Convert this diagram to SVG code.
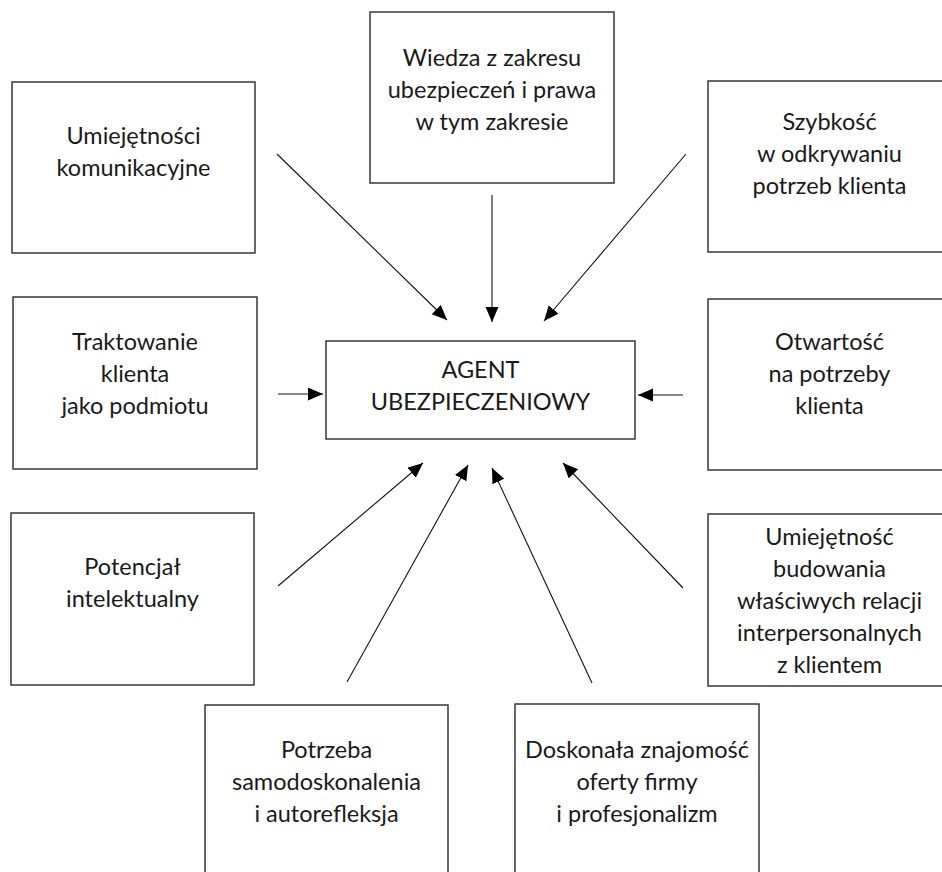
<svg xmlns="http://www.w3.org/2000/svg" width="942" height="872" viewBox="0 0 942 872">
<style>
.box{fill:#fff;stroke:#2a2a2a;stroke-width:1.4}
.t{font-family:Lato,"Open Sans","Liberation Sans",sans-serif;font-size:23.5px;fill:#1a1a1a;text-anchor:middle}
.c{stroke:#111;stroke-width:1.1;fill:none;marker-end:url(#ah)}
</style>
<defs>
<marker id="ah" markerUnits="userSpaceOnUse" markerWidth="16" markerHeight="14" refX="15" refY="6.5" orient="auto">
<path d="M0,0 L15,6.5 L0,13 z" fill="#000"/>
</marker>
</defs>
<rect width="942" height="872" fill="#fff"/>
<g id="connectors">
<line class="c" x1="277" y1="154" x2="447" y2="320"/>
<line class="c" x1="492" y1="195" x2="492" y2="322"/>
<line class="c" x1="686" y1="154" x2="544" y2="321"/>
<line class="c" x1="278" y1="394" x2="323" y2="394"/>
<line class="c" x1="683" y1="395" x2="638" y2="395"/>
<line class="c" x1="278" y1="586" x2="423" y2="463"/>
<line class="c" x1="347" y1="682" x2="468" y2="465"/>
<line class="c" x1="592" y1="683" x2="492" y2="468"/>
<line class="c" x1="683" y1="588" x2="563" y2="463"/>
</g>
<g id="n-komunikacyjne">
<rect class="box" x="12" y="82" width="243" height="171"/>
<text class="t" x="133.5" y="144">Umiejętności</text>
<text class="t" x="133.5" y="176">komunikacyjne</text>
</g>
<g id="n-wiedza">
<rect class="box" x="370" y="12" width="244" height="171"/>
<text class="t" x="492" y="66">Wiedza z zakresu</text>
<text class="t" x="492" y="98">ubezpieczeń i prawa</text>
<text class="t" x="492" y="130">w tym zakresie</text>
</g>
<g id="n-szybkosc">
<rect class="box" x="708" y="81" width="243" height="171"/>
<text class="t" x="829.5" y="130">Szybkość</text>
<text class="t" x="829.5" y="162">w odkrywaniu</text>
<text class="t" x="829.5" y="194">potrzeb klienta</text>
</g>
<g id="n-traktowanie">
<rect class="box" x="13" y="297" width="244" height="172"/>
<text class="t" x="135" y="350">Traktowanie</text>
<text class="t" x="135" y="382">klienta</text>
<text class="t" x="135" y="414">jako podmiotu</text>
</g>
<g id="n-agent">
<rect class="box" x="326" y="341" width="309" height="98"/>
<text class="t" x="480.5" y="378">AGENT</text>
<text class="t" x="480.5" y="410">UBEZPIECZENIOWY</text>
</g>
<g id="n-otwartosc">
<rect class="box" x="708" y="299" width="243" height="171"/>
<text class="t" x="829.5" y="350">Otwartość</text>
<text class="t" x="829.5" y="382">na potrzeby</text>
<text class="t" x="829.5" y="414">klienta</text>
</g>
<g id="n-potencjal">
<rect class="box" x="11" y="513" width="243" height="172"/>
<text class="t" x="132.5" y="575">Potencjał</text>
<text class="t" x="132.5" y="607">intelektualny</text>
</g>
<g id="n-relacje">
<rect class="box" x="708" y="514" width="243" height="172"/>
<text class="t" x="829.5" y="545">Umiejętność</text>
<text class="t" x="829.5" y="577">budowania</text>
<text class="t" x="829.5" y="609">właściwych relacji</text>
<text class="t" x="829.5" y="641">interpersonalnych</text>
<text class="t" x="829.5" y="673">z klientem</text>
</g>
<g id="n-potrzeba">
<rect class="box" x="205" y="705" width="243" height="171"/>
<text class="t" x="326.5" y="758">Potrzeba</text>
<text class="t" x="326.5" y="790">samodoskonalenia</text>
<text class="t" x="326.5" y="822">i autorefleksja</text>
</g>
<g id="n-doskonala">
<rect class="box" x="515" y="704" width="244" height="171"/>
<text class="t" x="637" y="758">Doskonała znajomość</text>
<text class="t" x="637" y="790">oferty firmy</text>
<text class="t" x="637" y="822">i profesjonalizm</text>
</g>
</svg>
